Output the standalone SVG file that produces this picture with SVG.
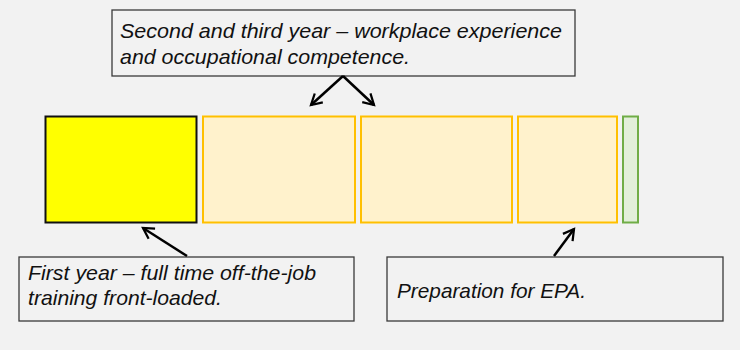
<svg xmlns="http://www.w3.org/2000/svg" width="740" height="350" viewBox="0 0 740 350">
<defs>
<style>
.lbl{fill:#f2f2f2;stroke:#3a3a3a;stroke-width:1.3}
.t{font-family:"Liberation Sans",Arial,sans-serif;font-style:italic;font-size:21px;fill:#111}
.gold{fill:#fff2cc;stroke:#ffc000;stroke-width:2}
.conn{stroke:#000;stroke-width:2.5;fill:none;marker-end:url(#ah)}
</style>
<marker id="ah" viewBox="0 0 10 10" refX="8" refY="5" markerWidth="6" markerHeight="6" orient="auto" markerUnits="strokeWidth">
<path d="M1,1 L8,5 L1,9" fill="none" stroke="#000" stroke-width="1.5"/>
</marker>
</defs>
<rect x="0" y="0" width="740" height="350" fill="#f2f2f2"/>
<g id="top-note">
<rect class="lbl" x="112" y="10" width="463" height="66"/>
<text class="t" x="120" y="38" textLength="442" lengthAdjust="spacingAndGlyphs">Second and third year – workplace experience</text>
<text class="t" x="120" y="64" textLength="290" lengthAdjust="spacingAndGlyphs">and occupational competence.</text>
</g>
<g id="year1"><rect x="45.5" y="116.5" width="151" height="106" fill="#ffff00" stroke="#111" stroke-width="2"/></g>
<g id="year2"><rect class="gold" x="203" y="116.5" width="152" height="106"/></g>
<g id="year3"><rect class="gold" x="361" y="116.5" width="151" height="106"/></g>
<g id="year4"><rect class="gold" x="518" y="116.5" width="99" height="106"/></g>
<g id="epa"><rect x="623" y="116.5" width="15" height="106" fill="#e2efda" stroke="#70ad47" stroke-width="2"/></g>
<g id="first-note">
<rect class="lbl" x="19" y="257" width="335" height="64"/>
<text class="t" x="28" y="280" textLength="288" lengthAdjust="spacingAndGlyphs">First year – full time off-the-job</text>
<text class="t" x="28" y="305" textLength="194" lengthAdjust="spacingAndGlyphs">training front-loaded.</text>
</g>
<g id="prep-note">
<rect class="lbl" x="387" y="257" width="336" height="64"/>
<text class="t" x="397" y="298" textLength="189" lengthAdjust="spacingAndGlyphs">Preparation for EPA.</text>
</g>
<g id="connectors">
<line class="conn" x1="343" y1="76" x2="311" y2="105"/>
<line class="conn" x1="343" y1="76" x2="374" y2="105"/>
<line class="conn" x1="187" y1="256" x2="143" y2="228"/>
<line class="conn" x1="554" y1="256" x2="574" y2="229"/>
</g>
</svg>
